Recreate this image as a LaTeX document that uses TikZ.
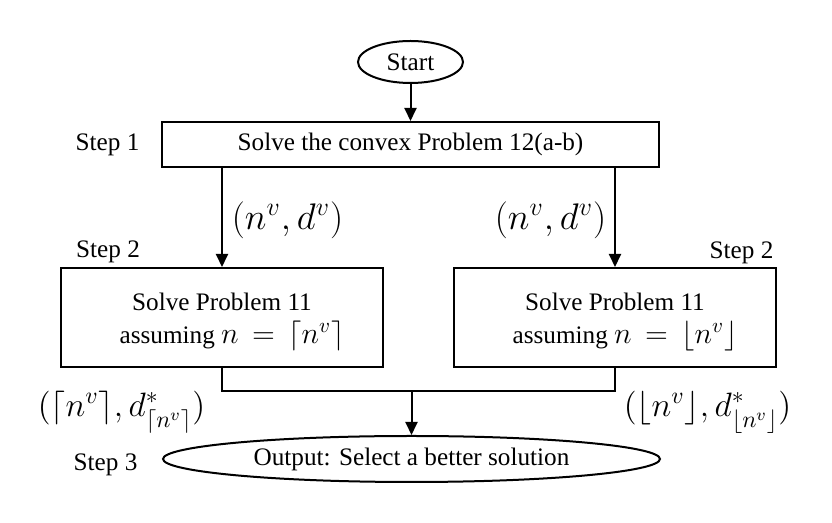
\RequirePackage{fix-cm}
\documentclass[tikz,border=0pt]{standalone}
\usepackage{amsmath}
\usepackage{fontspec}
\setmainfont{Liberation Serif}
\usepackage{tikz}
\usetikzlibrary{
    arrows.meta,
    shapes.geometric
}
\newcommand{\txtsize}{\fontsize{12.6}{15}\selectfont}
\newcommand{\lblsize}{\fontsize{18.5}{20}\selectfont}
\newcommand{\sollblsize}{\fontsize{16.9}{20}\selectfont}
\newcommand{\boxmath}{\fontsize{15}{15}\selectfont}

\begin{document}
\begin{tikzpicture}[x=0.5pt,y=-0.5pt,line width=1pt,
    box/.style={draw,rectangle,inner sep=0pt,font=\txtsize},
    oval/.style={draw,ellipse,inner sep=0pt,font=\txtsize},
    steplabel/.style={font=\txtsize},
    arr/.style={-{Triangle[length=6.5pt,width=6pt]}}]
\useasboundingbox (0,0) rectangle (832,523);

\node[oval,minimum width=52.5pt,minimum height=21pt] (start) at (410.5,62) {Start};
\node[box,minimum width=248.5pt,minimum height=22.5pt] (convex) at (410.5,144.5)
    {Solve the convex Problem 12(a-b)};
\node[box,minimum width=161pt,minimum height=49.5pt,align=center] (ceil) at (222,317.5)
    {\rule{0pt}{13pt}Solve Problem 11\\[1.5pt] \hspace*{10pt}assuming \boxmath$n\,=\,\lceil n^v\rceil$};
\node[box,minimum width=161pt,minimum height=49.5pt,align=center] (floor) at (615,317.5)
    {\rule{0pt}{13pt}Solve Problem 11\\[1.5pt] \hspace*{10pt}assuming \boxmath$n\,=\,\lfloor n^v\rfloor$};
\node[oval,minimum width=248.5pt,minimum height=23pt] (output) at (411.5,459)
    {Output: Select a better solution};

\node[steplabel] (s1) at (107.5,145) {Step 1};
\node[steplabel] (s2l) at (108,252) {Step 2};
\node[steplabel] (s2r) at (741.5,253) {Step 2};
\node[steplabel] (s3) at (105.5,465) {Step 3};

\draw[arr] (start) -- (convex);
\draw[arr] (convex.south -| ceil.north) -- (ceil.north);
\draw[arr] (convex.south -| floor.north) -- (floor.north);

\coordinate (join) at (411.5,391);
\draw (ceil.south) |- (join) -| (floor.south);
\draw[arr] (join) -- (output.north);

\node[font=\lblsize] (nvl) at (287.5,220) {$(n^v,d^v)$};
\node[font=\lblsize] (nvr) at (550.5,220) {$(n^v,d^v)$};
\node[font=\sollblsize] (cl) at (121.5,412) {$(\lceil n^v\rceil,d^*_{\lceil n^v\rceil})$};
\node[font=\sollblsize] (fl) at (707.5,412) {$(\lfloor n^v\rfloor,d^*_{\lfloor n^v\rfloor})$};
\end{tikzpicture}
\end{document}
